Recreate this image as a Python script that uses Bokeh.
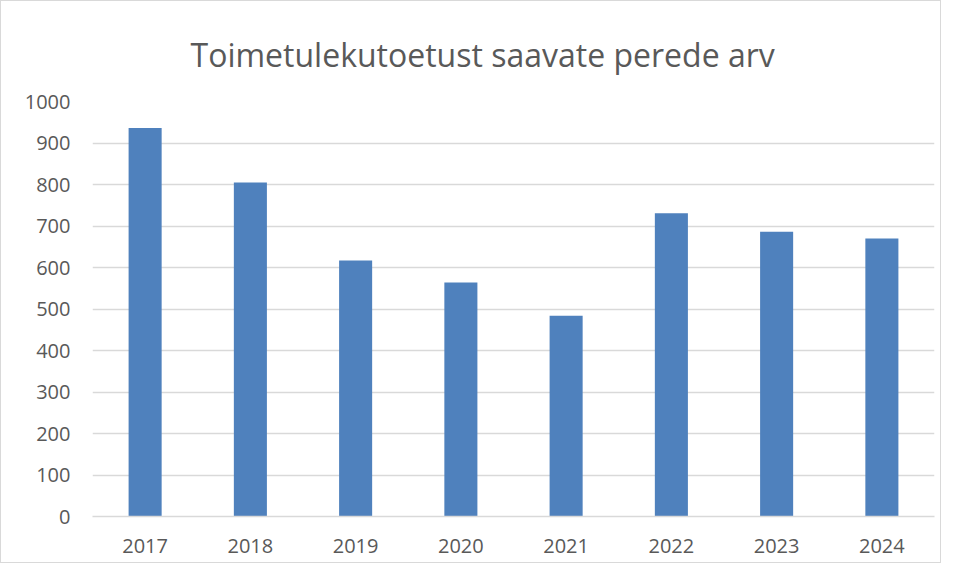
from bokeh.plotting import figure
from bokeh.models import Range1d, FixedTicker, Title
from bokeh.embed import file_html
from bokeh.resources import INLINE

years = ["2017", "2018", "2019", "2020", "2021", "2022", "2023", "2024"]
families = [936, 805, 617, 564, 484, 731, 686, 670]
y_ticks = [0, 100, 200, 300, 400, 500, 600, 700, 800, 900, 1000]

p = figure(x_range=years, y_range=Range1d(0, 1000), width=941, height=563,
           output_backend="svg", toolbar_location=None,
           min_border_left=91, min_border_right=8, min_border_top=100, min_border_bottom=48)

p.vbar(x=years, top=families, width=0.314, fill_color="#4f81bd", line_color=None)

t = Title(text="Toimetulekutoetust saavate perede arv", align="left",
          text_font="Open Sans", text_font_size="32px", text_font_style="normal",
          text_color="#595959", offset=98, standoff=50, vertical_align="middle")
p.add_layout(t, "above")

p.outline_line_color = None
p.xgrid.grid_line_color = None
p.ygrid.grid_line_color = "#d9d9d9"
p.ygrid.grid_line_width = 1.5
p.yaxis.ticker = FixedTicker(ticks=y_ticks)
p.yaxis.axis_line_color = None
p.yaxis.major_tick_line_color = None
p.yaxis.minor_tick_line_color = None
p.yaxis.major_label_standoff = 16
p.xaxis.axis_line_color = "#d9d9d9"
p.xaxis.axis_line_width = 1.5
p.xaxis.major_tick_line_color = None
p.xaxis.major_label_standoff = 16
for ax in (p.xaxis, p.yaxis):
    ax.major_label_text_font = "Open Sans"
    ax.major_label_text_font_size = "20px"
    ax.major_label_text_color = "#595959"
p.x_range.range_padding = 0
p.styles = {"border": "1px solid #d9d9d9"}

open("out.html", "w").write(file_html(p, INLINE))
